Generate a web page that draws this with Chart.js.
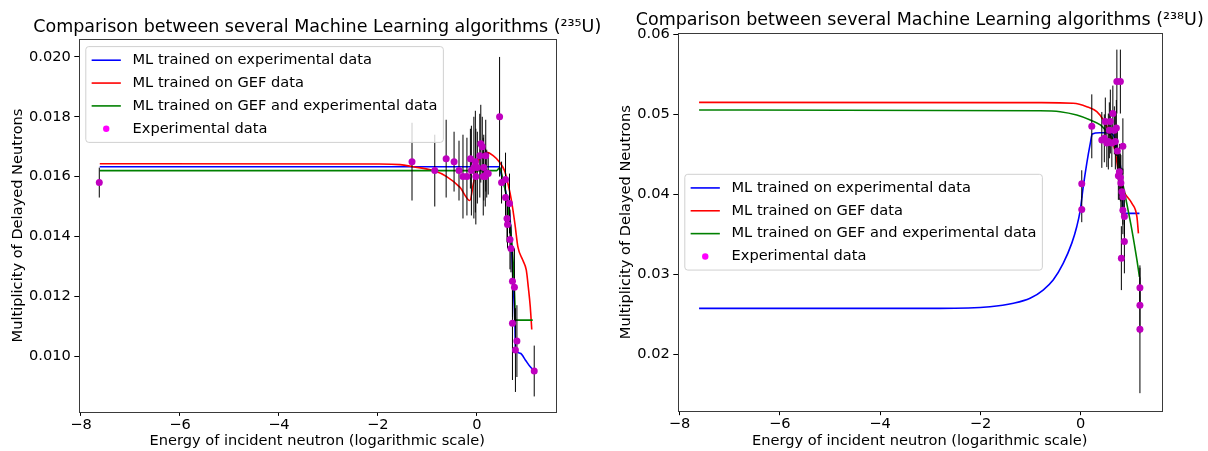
<!DOCTYPE html>
<html><head><meta charset="utf-8">
<script src="https://cdn.jsdelivr.net/npm/chart.js@4/dist/chart.umd.min.js"></script>
<style>
html,body{margin:0;padding:0;background:#fff;overflow:hidden;width:1208px;height:451px;}
.box{position:absolute;top:0;width:604px;height:451px;}
canvas{display:block;}
</style></head><body>
<div class="box" style="left:0"><canvas id="c1" width="604" height="451"></canvas></div>
<div class="box" style="left:604px"><canvas id="c2" width="604" height="451"></canvas></div>
<script>
// ---------- labels ----------
const seriesLabels = ['ML trained on experimental data', 'ML trained on GEF data', 'ML trained on GEF and experimental data', 'Experimental data'];
const titleU235 = 'Comparison between several Machine Learning algorithms (\u00B2\u00B3\u2075U)';
const titleU238 = 'Comparison between several Machine Learning algorithms (\u00B2\u00B3\u2078U)';
const xAxisLabel = 'Energy of incident neutron (logarithmic scale)';
const yAxisLabel = 'Multiplicity of Delayed Neutrons';
const xTicks = [-8, -6, -4, -2, 0];
const yTicksU235 = [0.010, 0.012, 0.014, 0.016, 0.018, 0.020];
const yTicksU238 = [0.02, 0.03, 0.04, 0.05, 0.06];

// ---------- U235 ----------
const u235ExpX = [-7.63, -1.31, -0.85, -0.62, -0.46, -0.36, -0.28, -0.20, -0.13, -0.11, -0.06, -0.03, -0.02, 0.01, 0.06, 0.08, 0.11, 0.13, 0.14, 0.17, 0.18, 0.20, 0.23, 0.46, 0.50, 0.58, 0.58, 0.66, 0.61, 0.62, 0.67, 0.69, 0.72, 0.76, 0.72, 0.81, 0.78, 1.16];
const u235ExpY = [0.0158, 0.0165, 0.0162, 0.0166, 0.0165, 0.0162, 0.0160, 0.0160, 0.0166, 0.0162, 0.0163, 0.0165, 0.0160, 0.0163, 0.0167, 0.0171, 0.0170, 0.0160, 0.0163, 0.0160, 0.0167, 0.0161, 0.0161, 0.0180, 0.0158, 0.0159, 0.0153, 0.0151, 0.0146, 0.0144, 0.0139, 0.0136, 0.0125, 0.0123, 0.0111, 0.0105, 0.0102, 0.0095];
const u235ExpErr = [0.0005, 0.0013, 0.0012, 0.0013, 0.0010, 0.0010, 0.0014, 0.0013, 0.0010, 0.0015, 0.0017, 0.0017, 0.0016, 0.0012, 0.0014, 0.0013, 0.0010, 0.0013, 0.0011, 0.0010, 0.0012, 0.0008, 0.0007, 0.0020, 0.0007, 0.0009, 0.0009, 0.0010, 0.0008, 0.0008, 0.0010, 0.0008, 0.0012, 0.0013, 0.0019, 0.0012, 0.0014, 0.00085];

const u235MlExpX = [-7.62, -2.0, 0.45, 0.50, 0.58, 0.67, 0.70, 0.73, 0.77, 0.78, 0.88, 0.98, 1.08, 1.16];
const u235MlExpY = [0.01633, 0.01633, 0.01633, 0.01603, 0.01553, 0.01464, 0.01376, 0.01253, 0.01109, 0.01026, 0.01009, 0.00987, 0.00964, 0.00951];
const u235GefX = [-7.62, -2.0, -1.55, -1.29, -0.88, -0.61, -0.34, -0.14, -0.07, 0.03, 0.13, 0.20, 0.33, 0.46, 0.56, 0.63, 0.70, 0.77, 0.83, 0.93, 1.00, 1.04, 1.08, 1.11];
const u235GefY = [0.01643, 0.01642, 0.0164, 0.01633, 0.0162, 0.0160, 0.01564, 0.0152, 0.01576, 0.01653, 0.01676, 0.01681, 0.0167, 0.01648, 0.0162, 0.01576, 0.0152, 0.01442, 0.01365, 0.0132, 0.01287, 0.01231, 0.01165, 0.01089];
const u235MixX = [-7.62, 0.40, 0.46, 0.53, 0.60, 0.67, 0.72, 0.75, 0.77, 0.78, 0.80, 1.13];
const u235MixY = [0.0162, 0.0162, 0.01629, 0.01587, 0.01531, 0.01442, 0.01353, 0.01264, 0.01176, 0.0112, 0.0112, 0.0112];

// ---------- U238 ----------
const u238ExpX = [0.02, 0.02, 0.22, 0.42, 0.47, 0.49, 0.52, 0.55, 0.57, 0.59, 0.62, 0.64, 0.67, 0.69, 0.71, 0.72, 0.79, 0.73, 0.84, 0.77, 0.75, 0.79, 0.80, 0.82, 0.84, 0.84, 0.87, 0.87, 0.81, 1.18, 1.18, 1.18];
const u238ExpY = [0.0413, 0.0381, 0.0485, 0.0468, 0.0470, 0.0491, 0.0464, 0.0466, 0.0480, 0.0491, 0.0464, 0.0501, 0.0480, 0.0466, 0.0483, 0.0541, 0.0541, 0.0454, 0.0460, 0.0428, 0.0423, 0.0421, 0.0414, 0.0403, 0.0397, 0.0380, 0.0372, 0.0341, 0.0320, 0.0283, 0.0261, 0.0231];
const u238ExpErr = [0.0017, 0.0016, 0.0040, 0.0035, 0.0030, 0.0030, 0.0030, 0.0035, 0.0035, 0.0040, 0.0030, 0.0035, 0.0030, 0.0035, 0.0035, 0.0040, 0.0040, 0.0030, 0.0035, 0.0035, 0.0030, 0.0030, 0.0035, 0.0030, 0.0035, 0.0030, 0.0025, 0.0040, 0.0040, 0.0025, 0.0035, 0.0080];

const u238MlExpX = [-7.61, -2.81, -1.81, -1.34, -1.01, -0.75, -0.55, -0.35, -0.18, -0.08, -0.01, 0.05, 0.12, 0.19, 0.23, 0.38, 0.52, 0.65, 0.72, 0.82, 0.85, 0.88, 1.17];
const u238MlExpY = [0.02572, 0.02572, 0.02592, 0.02635, 0.02697, 0.02801, 0.02926, 0.03135, 0.03385, 0.03593, 0.03802, 0.04094, 0.04387, 0.04637, 0.04753, 0.0477, 0.0477, 0.04741, 0.04553, 0.04178, 0.03761, 0.03761, 0.03761];
const u238GefX = [-7.61, -0.81, -0.15, 0.12, 0.32, 0.45, 0.55, 0.68, 0.78, 0.88, 1.02, 1.12, 1.15];
const u238GefY = [0.0515, 0.05146, 0.05138, 0.05096, 0.05033, 0.04929, 0.04804, 0.04553, 0.04178, 0.04011, 0.03886, 0.03718, 0.03511];
const u238MixX = [-7.61, -0.81, -0.41, -0.08, 0.19, 0.39, 0.52, 0.65, 0.75, 0.85, 0.93, 1.02, 1.12, 1.17];
const u238MixY = [0.05054, 0.05045, 0.05033, 0.04991, 0.04929, 0.04867, 0.04783, 0.04678, 0.04428, 0.04094, 0.03844, 0.03552, 0.03177, 0.02967];

// ---------- styling ----------
const FS = 14.6;
const TFS = 17.5;
const FONT = "'DejaVu Sans'";
Chart.defaults.font.family = FONT;
Chart.defaults.font.size = FS;
Chart.defaults.color = '#000';

const pts = (xs, ys) => xs.map((x, i) => ({x: x, y: ys[i]}));
const fmtX = v => (v < 0 ? '\u2212' + Math.abs(v) : String(v));

const errorBarPlugin = {
  id: 'errorBars',
  beforeDatasetDraw(chart, args) {
    if (args.index !== 3) return;
    const ds = chart.data.datasets[3];
    const xs = chart.scales.x, ys = chart.scales.y, ctx = chart.ctx;
    const a = chart.chartArea;
    ctx.save();
    ctx.beginPath();
    ctx.rect(a.left, a.top, a.right - a.left, a.bottom - a.top);
    ctx.clip();
    ctx.strokeStyle = '#000';
    ctx.lineWidth = 1;
    ds.data.forEach((p, i) => {
      const e = ds.errors[i];
      const px = xs.getPixelForValue(p.x);
      ctx.beginPath();
      ctx.moveTo(px, ys.getPixelForValue(p.y - e));
      ctx.lineTo(px, ys.getPixelForValue(p.y + e));
      ctx.stroke();
    });
    ctx.restore();
  }
};

const framePlugin = {
  id: 'frameBox',
  afterDatasetsDraw(chart) {
    const a = chart.chartArea, ctx = chart.ctx;
    ctx.save();
    ctx.strokeStyle = '#3a3a3a';
    ctx.lineWidth = 1;
    ctx.strokeRect(Math.round(a.left) + 0.5, Math.round(a.top) + 0.5, Math.round(a.right) - Math.round(a.left), Math.round(a.bottom) - Math.round(a.top));
    ctx.restore();
  }
};

const legendPlugin = {
  id: 'mplLegend',
  afterDatasetsDraw(chart, args, opts) {
    const ctx = chart.ctx, a = chart.chartArea;
    const items = chart.data.datasets.map(d => ({label: d.label, color: d.legendColor, kind: d.showLine ? 'line' : 'dot'}));
    ctx.save();
    ctx.font = FS + 'px ' + FONT;
    const tw = Math.max(...items.map(it => ctx.measureText(it.label).width));
    const pad = 0.4 * FS, hl = 2 * FS, htp = 0.8 * FS, ls = 0.5 * FS, rowH = 1.065 * FS;
    const w = pad + hl + htp + tw + pad;
    const h = 2 * pad + items.length * rowH + (items.length - 1) * ls;
    const left = a.left + 0.5 * FS;
    const top = opts.vpos === 'center' ? (a.top + a.bottom) / 2 - h / 2 : a.top + 0.5 * FS;
    const r = 3;
    ctx.beginPath();
    ctx.moveTo(left + r, top);
    ctx.arcTo(left + w, top, left + w, top + h, r);
    ctx.arcTo(left + w, top + h, left, top + h, r);
    ctx.arcTo(left, top + h, left, top, r);
    ctx.arcTo(left, top, left + w, top, r);
    ctx.closePath();
    ctx.fillStyle = 'rgba(255,255,255,0.8)';
    ctx.fill();
    ctx.strokeStyle = '#d0d0d0';
    ctx.lineWidth = 1;
    ctx.stroke();
    items.forEach((it, i) => {
      const cy = top + pad + rowH / 2 + i * (rowH + ls);
      if (it.kind === 'line') {
        ctx.beginPath();
        ctx.strokeStyle = it.color;
        ctx.lineWidth = 1.6;
        ctx.moveTo(left + pad, cy);
        ctx.lineTo(left + pad + hl, cy);
        ctx.stroke();
      } else {
        ctx.beginPath();
        ctx.fillStyle = it.color;
        ctx.arc(left + pad + hl / 2, cy, 3.2, 0, Math.PI * 2);
        ctx.fill();
      }
      ctx.fillStyle = '#000';
      ctx.textBaseline = 'middle';
      ctx.textAlign = 'left';
      ctx.fillText(it.label, left + pad + hl + htp, cy);
    });
    ctx.restore();
  }
};

const titleCenterPlugin = {
  id: 'titleCenter',
  afterLayout(chart) {
    const tb = chart.titleBlock;
    if (!tb) return;
    const cx = (chart.chartArea.left + chart.chartArea.right) / 2;
    tb.left = cx - 300;
    tb.right = cx + 300;
  }
};

function makeChart(id, cfg) {
  const lineDs = (label, color, xs, ys, order) => ({
    type: 'line', label: label, data: pts(xs, ys), borderColor: color, legendColor: color,
    borderWidth: 1.6, pointRadius: 0, showLine: true, fill: false,
    cubicInterpolationMode: 'monotone', order: order
  });
  return new Chart(document.getElementById(id), {
    type: 'scatter',
    data: {
      datasets: [
        lineDs(seriesLabels[0], '#0000ff', cfg.blueX, cfg.blueY, 3),
        lineDs(seriesLabels[1], '#ff0000', cfg.redX, cfg.redY, 2),
        lineDs(seriesLabels[2], '#008000', cfg.greenX, cfg.greenY, 1),
        {
          type: 'scatter', label: seriesLabels[3], data: pts(cfg.expX, cfg.expY), errors: cfg.expErr,
          backgroundColor: '#bf00bf', legendColor: '#ff00ff', borderWidth: 0,
          pointRadius: 3.5, showLine: false, order: 0
        }
      ]
    },
    options: {
      responsive: false,
      animation: false,
      devicePixelRatio: 1,
      layout: {padding: {left: 0, right: cfg.padRight, top: 0, bottom: 0}},
      plugins: {
        legend: {display: false},
        tooltip: {enabled: false},
        title: {
          display: true, text: cfg.title, color: '#000',
          font: {size: TFS, weight: 'normal', family: FONT},
          padding: {top: cfg.titlePadTop, bottom: cfg.titlePadBottom}
        },
        mplLegend: {vpos: cfg.legendPos}
      },
      scales: {
        x: {
          type: 'linear', min: cfg.xMin, max: cfg.xMax,
          afterBuildTicks: s => { s.ticks = xTicks.map(v => ({value: v})); },
          afterFit: s => { s.height = cfg.xAxisHeight; },
          ticks: {callback: v => fmtX(v), padding: 0.6, maxRotation: 0, autoSkip: false, color: '#000', font: {size: FS}},
          grid: {display: true, drawOnChartArea: false, drawTicks: true, tickLength: 4.2, color: '#000', lineWidth: 1},
          border: {display: false},
          title: {display: true, text: xAxisLabel, color: '#000', font: {size: FS}, padding: {top: 0, bottom: 0.7}}
        },
        y: {
          type: 'linear', min: cfg.yMin, max: cfg.yMax,
          afterBuildTicks: s => { s.ticks = cfg.yTicks.map(v => ({value: v})); },
          afterFit: s => { s.width = cfg.yAxisWidth; },
          ticks: {callback: v => v.toFixed(cfg.yDec), padding: 3.5, color: '#000', font: {size: FS}},
          grid: {display: true, drawOnChartArea: false, drawTicks: true, tickLength: 4.2, color: '#000', lineWidth: 1},
          border: {display: false},
          title: {display: true, text: yAxisLabel, color: '#000', font: {size: FS}, padding: {top: cfg.yTitlePad, bottom: 0}}
        }
      }
    },
    plugins: [errorBarPlugin, framePlugin, legendPlugin, titleCenterPlugin]
  });
}

makeChart('c1', {
  title: titleU235,
  blueX: u235MlExpX, blueY: u235MlExpY, redX: u235GefX, redY: u235GefY, greenX: u235MixX, greenY: u235MixY,
  expX: u235ExpX, expY: u235ExpY, expErr: u235ExpErr,
  xMin: -8.05, xMax: 1.60, yMin: 0.00814, yMax: 0.02059, yTicks: yTicksU235, yDec: 3,
  padRight: 48, yAxisWidth: 78.5, xAxisHeight: 39.3,
  titlePadTop: 17.3, titlePadBottom: 1.0, yTitlePad: 9.0, legendPos: 'top'
});

makeChart('c2', {
  title: titleU238,
  blueX: u238MlExpX, blueY: u238MlExpY, redX: u238GefX, redY: u238GefY, greenX: u238MixX, greenY: u238MixY,
  expX: u238ExpX, expY: u238ExpY, expErr: u238ExpErr,
  xMin: -8.04, xMax: 1.62, yMin: 0.01287, yMax: 0.06013, yTicks: yTicksU238, yDec: 2,
  padRight: 46, yAxisWidth: 73.5, xAxisHeight: 40,
  titlePadTop: 10.4, titlePadBottom: 2.0, yTitlePad: 13.0, legendPos: 'center'
});
</script>
</body></html>
